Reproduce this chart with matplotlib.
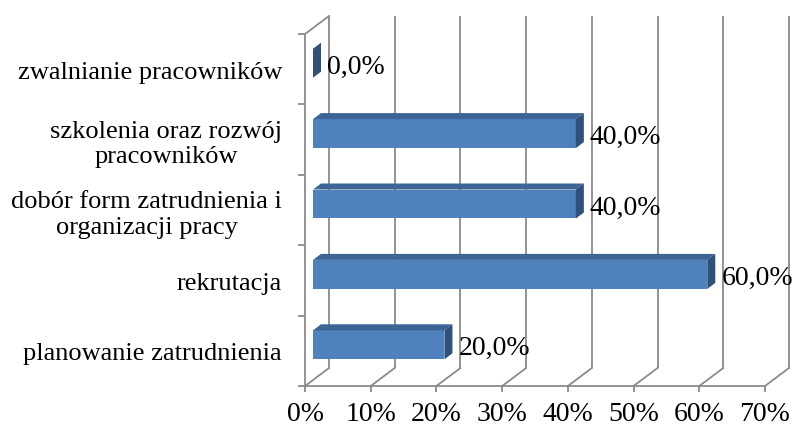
import matplotlib
matplotlib.use('Agg')
import matplotlib.pyplot as plt
from matplotlib.patches import Polygon

categories = ["planowanie zatrudnienia", "rekrutacja",
              "dobór form zatrudnienia i\norganizacji pracy",
              "szkolenia oraz rozwój\npracowników",
              "zwalnianie pracowników"]
values = [20.0, 60.0, 40.0, 40.0, 0.0]
value_labels = ["20,0%", "60,0%", "40,0%", "40,0%", "0,0%"]
xticks = [0, 10, 20, 30, 40, 50, 60, 70]
xtick_labels = ["0%", "10%", "20%", "30%", "40%", "50%", "60%", "70%"]

W, H = 793, 427
FONT = "Liberation Serif"
FS = 19
FS_NUM = 20
fig = plt.figure(figsize=(W / 100, H / 100), dpi=100)
fig.patch.set_facecolor("white")
ax = fig.add_axes([305 / W, 40 / H, 460 / W, 352 / H])
ax.set_xlim(0, 70)
ax.set_ylim(0, 5)
ax.patch.set_visible(False)

px_x = 70 / 460
px_y = 5 / 352
DX, DY = 24 * px_x, 18 * px_y

grid_color = "#8a8a8a"
lw = 1.3
for t in xticks:
    ax.plot([t + DX, t + DX], [DY, 5 + DY], color=grid_color, lw=lw,
            clip_on=False, zorder=1, solid_capstyle="butt")
    ax.plot([t, t + DX], [0, DY], color=grid_color, lw=lw, clip_on=False, zorder=1)
ax.plot([0, DX], [5, 5 + DY], color=grid_color, lw=lw, clip_on=False, zorder=1)

for s in ["top", "right"]:
    ax.spines[s].set_visible(False)
for s in ["left", "bottom"]:
    ax.spines[s].set_color(grid_color)
    ax.spines[s].set_linewidth(lw)

ax.set_xticks(xticks)
ax.set_xticklabels(xtick_labels, fontfamily=FONT, fontsize=FS_NUM)
ax.tick_params(axis="x", length=4, width=lw, color=grid_color, pad=7)
ypos = [i + 0.5 for i in range(len(categories))]
ax.set_yticks(ypos)
ax.set_yticklabels(categories, fontfamily=FONT, fontsize=FS, linespacing=1.2)
for lab in ax.get_yticklabels():
    lab.set_multialignment("center")
ax.tick_params(axis="y", which="major", length=0, pad=16.5)
ax.set_yticks(range(0, 6), minor=True)
ax.tick_params(axis="y", which="minor", length=5, width=lw, color=grid_color)

front = "#4f81bd"
top = "#3c6596"
side = "#2f5079"
h = 29 / 70.4
ox, oy = DX / 3, DY / 3
for i, v in enumerate(values):
    yc = ypos[i] + oy
    if v > 0:
        ax.barh(yc, v, height=h, left=ox, color=front, zorder=3, clip_on=False)
    y0, y1 = yc - h / 2, yc + h / 2
    ax.add_patch(Polygon([(ox, y1), (v + ox, y1), (v + 2 * ox, y1 + oy), (2 * ox, y1 + oy)],
                         closed=True, facecolor=top, edgecolor="none", zorder=3, clip_on=False))
    ax.add_patch(Polygon([(v + ox, y0), (v + ox, y1), (v + 2 * ox, y1 + oy), (v + 2 * ox, y0 + oy)],
                         closed=True, facecolor=side, edgecolor="none", zorder=3, clip_on=False))
    ax.text(v + 22 * px_x, ypos[i] + 3 * px_y, value_labels[i], fontfamily=FONT,
            fontsize=FS_NUM, ha="left", va="center", zorder=4)

fig.savefig("out.png", dpi=100)
